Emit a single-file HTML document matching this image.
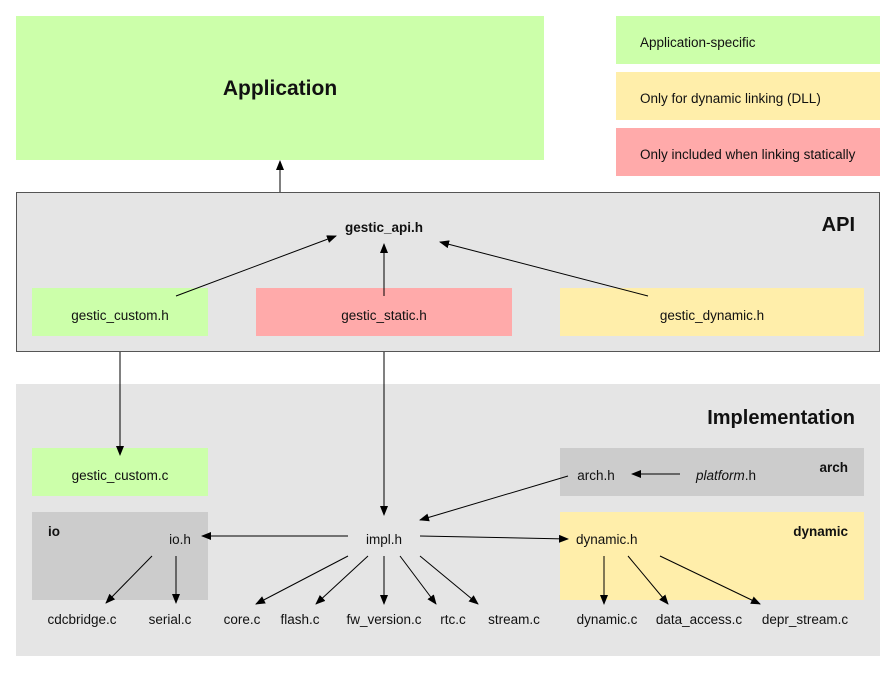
<!DOCTYPE html>
<html><head><style>
body{margin:0;background:#fff}
svg text{font-family:"Liberation Sans",sans-serif;font-size:13.5px;fill:#111}
</style></head><body>
<svg width="896" height="672" viewBox="0 0 896 672" xmlns="http://www.w3.org/2000/svg">
<defs><marker id="a" markerWidth="10" markerHeight="8" refX="9" refY="4" orient="auto" markerUnits="userSpaceOnUse"><path d="M0,0 L10,4 L0,8 Z" fill="#000"/></marker></defs>
<rect x="16" y="16" width="528" height="144" fill="#ccffaa"/>
<text x="280" y="95" text-anchor="middle" style="font-size:21px;font-weight:bold">Application</text>
<rect x="616" y="16" width="264" height="48" fill="#ccffaa"/>
<text x="640" y="47">Application-specific</text>
<rect x="616" y="72" width="264" height="48" fill="#ffeeaa"/>
<text x="640" y="103">Only for dynamic linking (DLL)</text>
<rect x="616" y="128" width="264" height="48" fill="#ffaaaa"/>
<text x="640" y="159">Only included when linking statically</text>
<line x1="280" y1="192" x2="280" y2="161" stroke="#000" marker-end="url(#a)"/>
<rect x="16.5" y="192.5" width="863" height="159" fill="#e5e5e5" stroke="#555"/>
<text x="855" y="231" text-anchor="end" style="font-size:20px;font-weight:bold">API</text>
<text x="384" y="232" text-anchor="middle" style="font-weight:bold">gestic_api.h</text>
<rect x="32" y="288" width="176" height="48" fill="#ccffaa"/>
<text x="120" y="320" text-anchor="middle">gestic_custom.h</text>
<rect x="256" y="288" width="256" height="48" fill="#ffaaaa"/>
<text x="384" y="320" text-anchor="middle">gestic_static.h</text>
<rect x="560" y="288" width="304" height="48" fill="#ffeeaa"/>
<text x="712" y="320" text-anchor="middle">gestic_dynamic.h</text>
<line x1="176" y1="296" x2="336" y2="236" stroke="#000" marker-end="url(#a)"/>
<line x1="384" y1="296" x2="384" y2="244" stroke="#000" marker-end="url(#a)"/>
<line x1="648" y1="296" x2="440" y2="242" stroke="#000" marker-end="url(#a)"/>
<rect x="16" y="384" width="864" height="272" fill="#e5e5e5"/>
<text x="855" y="424" text-anchor="end" style="font-size:20px;font-weight:bold">Implementation</text>
<rect x="32" y="448" width="176" height="48" fill="#ccffaa"/>
<text x="120" y="480" text-anchor="middle">gestic_custom.c</text>
<line x1="120" y1="352" x2="120" y2="455" stroke="#000" marker-end="url(#a)"/>
<line x1="384" y1="352" x2="384" y2="515" stroke="#000" marker-end="url(#a)"/>
<rect x="32" y="512" width="176" height="88" fill="#cccccc"/>
<text x="48" y="536" style="font-weight:bold">io</text>
<text x="180" y="544" text-anchor="middle">io.h</text>
<text x="82" y="624" text-anchor="middle">cdcbridge.c</text>
<text x="170" y="624" text-anchor="middle">serial.c</text>
<line x1="152" y1="556" x2="106" y2="603" stroke="#000" marker-end="url(#a)"/>
<line x1="176" y1="556" x2="176" y2="603" stroke="#000" marker-end="url(#a)"/>
<rect x="560" y="448" width="304" height="48" fill="#cccccc"/>
<text x="848" y="472" text-anchor="end" style="font-weight:bold">arch</text>
<text x="596" y="480" text-anchor="middle">arch.h</text>
<text x="696" y="480"><tspan font-style="italic">platform</tspan>.h</text>
<line x1="680" y1="474" x2="632" y2="474" stroke="#000" marker-end="url(#a)"/>
<line x1="568" y1="476" x2="420" y2="520" stroke="#000" marker-end="url(#a)"/>
<rect x="560" y="512" width="304" height="88" fill="#ffeeaa"/>
<text x="848" y="536" text-anchor="end" style="font-weight:bold">dynamic</text>
<text x="576" y="544">dynamic.h</text>
<text x="607" y="624" text-anchor="middle">dynamic.c</text>
<text x="699" y="624" text-anchor="middle">data_access.c</text>
<text x="805" y="624" text-anchor="middle">depr_stream.c</text>
<line x1="604" y1="556" x2="604" y2="604" stroke="#000" marker-end="url(#a)"/>
<line x1="628" y1="556" x2="668" y2="604" stroke="#000" marker-end="url(#a)"/>
<line x1="660" y1="556" x2="760" y2="604" stroke="#000" marker-end="url(#a)"/>
<text x="384" y="544" text-anchor="middle">impl.h</text>
<line x1="348" y1="536" x2="202" y2="536" stroke="#000" marker-end="url(#a)"/>
<line x1="420" y1="536" x2="568" y2="539" stroke="#000" marker-end="url(#a)"/>
<text x="242" y="624" text-anchor="middle">core.c</text>
<text x="300" y="624" text-anchor="middle">flash.c</text>
<text x="384" y="624" text-anchor="middle">fw_version.c</text>
<text x="453" y="624" text-anchor="middle">rtc.c</text>
<text x="514" y="624" text-anchor="middle">stream.c</text>
<line x1="348" y1="556" x2="256" y2="604" stroke="#000" marker-end="url(#a)"/>
<line x1="368" y1="556" x2="316" y2="604" stroke="#000" marker-end="url(#a)"/>
<line x1="384" y1="556" x2="384" y2="604" stroke="#000" marker-end="url(#a)"/>
<line x1="400" y1="556" x2="436" y2="604" stroke="#000" marker-end="url(#a)"/>
<line x1="420" y1="556" x2="478" y2="604" stroke="#000" marker-end="url(#a)"/>
</svg>
</body></html>
